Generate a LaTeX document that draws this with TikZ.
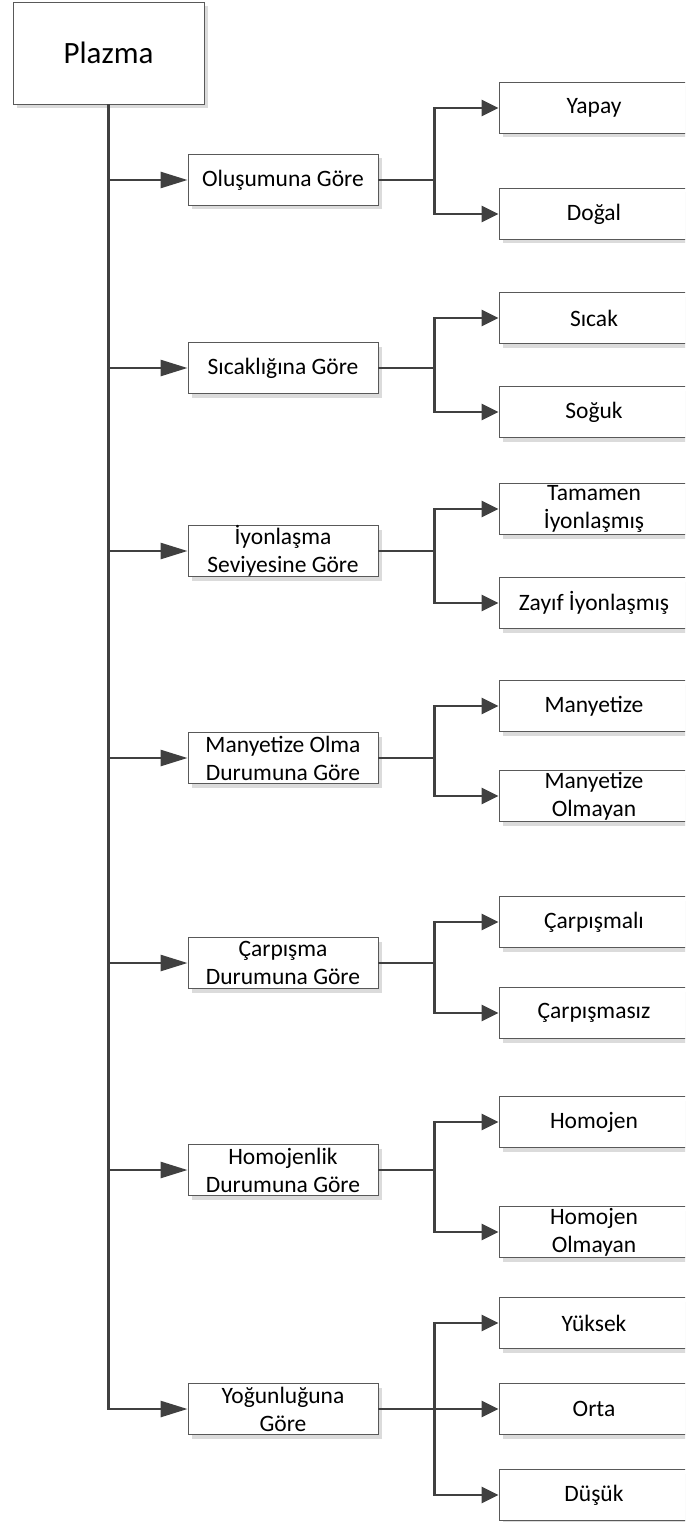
\documentclass[tikz,border=0pt]{standalone}
\usepackage{fontspec}
\setmainfont{Carlito}
\usetikzlibrary{arrows.meta,shadows}
\definecolor{linegray}{HTML}{404040}

\begin{document}
\begin{tikzpicture}[x=1pt,y=-1pt,
  box/.style={draw=black!65, line width=0.9pt, fill=white,
    minimum width=190pt, minimum height=51pt, inner sep=0pt, align=center,
    font=\fontsize{23.5}{28}\selectfont,
    drop shadow={shadow xshift=4pt, shadow yshift=-4pt, fill=black!14, opacity=1}},
  link/.style={draw=linegray, line width=2.6pt},
  bigtip/.style={link, -{Triangle[length=27pt,width=16pt]}},
  tip/.style={link, -{Triangle[length=17pt,width=16pt]}}]
  \useasboundingbox (0,0) rectangle (685,1522);
  \clip (0,0) rectangle (685,1522);

  \node[box, minimum width=191pt, minimum height=102pt,
    font=\fontsize{31}{36}\selectfont] (plazma) at (108.5,53) {Plazma};

  \node[box] (olusum)   at (283,180)  {Oluşumuna Göre};
  \node[box] (sicaklik) at (283,368)  {Sıcaklığına Göre};
  \node[box] (iyon)     at (283,551)  {İyonlaşma\\Seviyesine Göre};
  \node[box] (manyet)   at (283,758)  {Manyetize Olma\\Durumuna Göre};
  \node[box] (carp)     at (283,963)  {Çarpışma\\Durumuna Göre};
  \node[box] (homo)     at (283,1170) {Homojenlik\\Durumuna Göre};
  \node[box] (yogun)    at (283,1409) {Yoğunluğuna\\Göre};

  \node[box] (yapay)    at (594,108)  {Yapay};
  \node[box] (dogal)    at (594,214)  {Doğal};
  \node[box] (sicak)    at (594,318)  {Sıcak};
  \node[box] (soguk)    at (594,412)  {Soğuk};
  \node[box] (tamamen)  at (594,509)  {Tamamen\\İyonlaşmış};
  \node[box] (zayif)    at (594,603)  {Zayıf İyonlaşmış};
  \node[box] (mvar)     at (594,706)  {Manyetize};
  \node[box] (myok)     at (594,796)  {Manyetize\\Olmayan};
  \node[box] (carpli)   at (594,922)  {Çarpışmalı};
  \node[box] (carpsiz)  at (594,1013) {Çarpışmasız};
  \node[box] (homvar)   at (594,1122) {Homojen};
  \node[box] (homyok)   at (594,1232) {Homojen\\Olmayan};
  \node[box] (yuksek)   at (594,1323) {Yüksek};
  \node[box] (orta)     at (594,1409) {Orta};
  \node[box] (dusuk)    at (594,1495) {Düşük};

  \draw[bigtip] (plazma) |- (yogun);
  \draw[bigtip] (plazma.south |- olusum) -- (olusum);
  \draw[bigtip] (plazma.south |- sicaklik) -- (sicaklik);
  \draw[bigtip] (plazma.south |- iyon) -- (iyon);
  \draw[bigtip] (plazma.south |- manyet) -- (manyet);
  \draw[bigtip] (plazma.south |- carp) -- (carp);
  \draw[bigtip] (plazma.south |- homo) -- (homo);

  \coordinate (f1) at ([xshift=56pt]olusum.east);
  \coordinate (f2) at ([xshift=56pt]sicaklik.east);
  \coordinate (f3) at ([xshift=56pt]iyon.east);
  \coordinate (f4) at ([xshift=56pt]manyet.east);
  \coordinate (f5) at ([xshift=56pt]carp.east);
  \coordinate (f6) at ([xshift=56pt]homo.east);
  \coordinate (f7) at ([xshift=56pt]yogun.east);

  \draw[tip] (olusum) -- (f1) |- (yapay);
  \draw[tip] (f1) |- (dogal);
  \draw[tip] (sicaklik) -- (f2) |- (sicak);
  \draw[tip] (f2) |- (soguk);
  \draw[tip] (iyon) -- (f3) |- (tamamen);
  \draw[tip] (f3) |- (zayif);
  \draw[tip] (manyet) -- (f4) |- (mvar);
  \draw[tip] (f4) |- (myok);
  \draw[tip] (carp) -- (f5) |- (carpli);
  \draw[tip] (f5) |- (carpsiz);
  \draw[tip] (homo) -- (f6) |- (homvar);
  \draw[tip] (f6) |- (homyok);
  \draw[tip] (yogun) -- (orta);
  \draw[tip] (f7) |- (yuksek);
  \draw[tip] (f7) |- (dusuk);
\end{tikzpicture}
\end{document}
